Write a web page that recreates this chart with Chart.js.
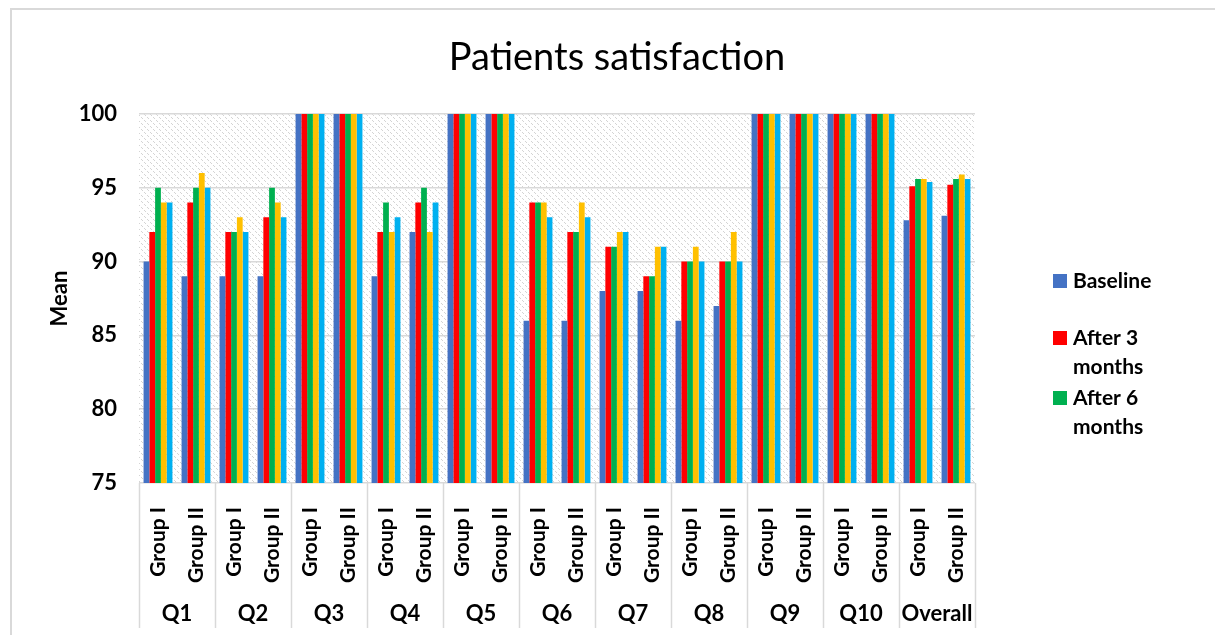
<!DOCTYPE html>
<html><head><meta charset="utf-8">
<script src="https://cdn.jsdelivr.net/npm/chart.js@4.4.0/dist/chart.umd.min.js"></script>
<style>
html,body{margin:0;padding:0;background:#fff;overflow:hidden}
#wrap{position:relative;width:1215px;height:635px}
#frame{position:absolute;left:10px;top:8px;width:1230px;height:660px;border-left:2px solid #d9d9d9;border-top:2px solid #d9d9d9;box-sizing:border-box}
canvas{position:absolute;left:0;top:0}
</style></head><body>
<div id="wrap"><div id="frame"></div><canvas id="c" width="1215" height="635"></canvas></div>
<script>
const chartTitle = 'Patients satisfaction';
const questions = ['Q1','Q2','Q3','Q4','Q5','Q6','Q7','Q8','Q9','Q10','Overall'];
const groups = ['Group I','Group II'];
const seriesNames = ['Baseline','After 3 months','After 6 months','Series 4','Series 5'];
const legendCount = 3;
const yTicks = [75, 80, 85, 90, 95, 100];
// values ordered: Q1 Group I, Q1 Group II, Q2 Group I, ...
const baseline = [90,89, 89,89, 100,100, 89,92, 100,100, 86,86, 88,88, 86,87, 100,100, 100,100, 92.8,93.1];
const after3   = [92,94, 92,93, 100,100, 92,94, 100,100, 94,92, 91,89, 90,90, 100,100, 100,100, 95.1,95.2];
const after6   = [95,95, 92,95, 100,100, 94,95, 100,100, 94,92, 91,89, 90,90, 100,100, 100,100, 95.6,95.6];
const series4  = [94,96, 93,94, 100,100, 92,92, 100,100, 94,94, 92,91, 91,92, 100,100, 100,100, 95.6,95.9];
const series5  = [94,95, 92,93, 100,100, 93,94, 100,100, 93,93, 92,91, 90,90, 100,100, 100,100, 95.4,95.6];
const colors = ['#4472C4','#FF0000','#00B050','#FFC000','#00B0F0'];

const xLabels = [];
questions.forEach(() => groups.forEach(g => xLabels.push(g)));
const seriesValues = [baseline, after3, after6, series4, series5];

const FONT = 'Lato';

function makePattern(){
  const p = document.createElement('canvas');
  p.width = 6; p.height = 6;
  const c = p.getContext('2d');
  c.fillStyle = '#fff'; c.fillRect(0,0,6,6);
  c.fillStyle = '#d4d4d4';
  for (let i = 0; i < 6; i++) { if (i % 3 !== 2) c.fillRect(i, i, 1, 1); }
  return p;
}

const bgPlugin = {
  id: 'bgPattern',
  beforeDraw(chart){
    const {ctx, chartArea:a} = chart;
    ctx.save();
    ctx.fillStyle = ctx.createPattern(makePattern(), 'repeat');
    ctx.fillRect(a.left, a.top, a.right - a.left, a.bottom - a.top);
    ctx.restore();
  }
};

const decorPlugin = {
  id: 'decor',
  afterDraw(chart){
    const {ctx, chartArea:a} = chart;
    const x2 = chart.scales.x2;
    const step = x2.getPixelForValue(1) - x2.getPixelForValue(0);
    ctx.save();
    ctx.strokeStyle = '#d9d9d9';
    ctx.lineWidth = 1.5;
    for (let i = 0; i <= questions.length; i++) {
      const px = Math.round(x2.getPixelForValue(0) - step/2 + i*step) + 0.5;
      ctx.beginPath(); ctx.moveTo(px, a.bottom); ctx.lineTo(px, 628); ctx.stroke();
    }
    // title
    ctx.fillStyle = '#000';
    ctx.font = '38px ' + FONT;
    ctx.textAlign = 'center'; ctx.textBaseline = 'middle';
    ctx.fillText(chartTitle, 617, 58);
    // legend
    ctx.font = 'bold 21px ' + FONT;
    ctx.textAlign = 'left';
    const starts = [281, 338, 398];
    for (let i = 0; i < legendCount; i++) {
      const ds = chart.data.datasets[i];
      const words = ds.label.split(' ');
      const lines = []; let cur = '';
      words.forEach(w => {
        const t = cur ? cur + ' ' + w : w;
        if (cur && ctx.measureText(t).width > 100) { lines.push(cur); cur = w; } else cur = t;
      });
      lines.push(cur);
      ctx.fillStyle = ds.backgroundColor;
      ctx.fillRect(1053, starts[i] - 7, 14, 14);
      ctx.fillStyle = '#000';
      lines.forEach((l, k) => ctx.fillText(l, 1073, starts[i] + k*29));
    }
    ctx.restore();
  }
};

new Chart(document.getElementById('c'), {
  type: 'bar',
  data: {
    labels: xLabels,
    datasets: seriesValues.map((v, i) => ({
      label: seriesNames[i], data: v, backgroundColor: colors[i],
      borderWidth: 0, categoryPercentage: 0.76, barPercentage: 1.0
    }))
  },
  options: {
    responsive: false, animation: false,
    layout: { padding: { left: 11, right: 240, top: 114, bottom: 0 } },
    plugins: { legend: { display: false }, title: { display: false }, tooltip: { enabled: false } },
    scales: {
      x: {
        type: 'category', labels: xLabels,
        grid: { display: false }, border: { display: false },
        ticks: { autoSkip: false, minRotation: 90, maxRotation: 90, padding: 16, color: '#000',
                 font: { family: FONT, size: 21, weight: 'bold' } },
        afterFit(s){ s.height = 111; }
      },
      x2: {
        type: 'category', labels: questions, position: 'bottom',
        grid: { display: false }, border: { display: false },
        ticks: { autoSkip: false, maxRotation: 0, minRotation: 0, padding: -1, color: '#000',
                 font: { family: FONT, size: 22, weight: 'bold' } },
        afterFit(s){ s.height = 41; }
      },
      y: {
        min: 75, max: 100,
        afterBuildTicks(s){ s.ticks = yTicks.map(v => ({ value: v })); },
        grid: { color: '#d9d9d9', lineWidth: 1.5, drawTicks: false },
        border: { display: false },
        ticks: { padding: 22, color: '#000', font: { family: FONT, size: 22, weight: 'bold' } },
        title: { display: true, text: 'Mean', color: '#000', padding: { top: 36, bottom: 0 },
                 font: { family: FONT, size: 22, weight: 'bold' } },
        afterFit(s){ s.width = 128; }
      }
    }
  },
  plugins: [bgPlugin, decorPlugin]
});
</script>
</body></html>
